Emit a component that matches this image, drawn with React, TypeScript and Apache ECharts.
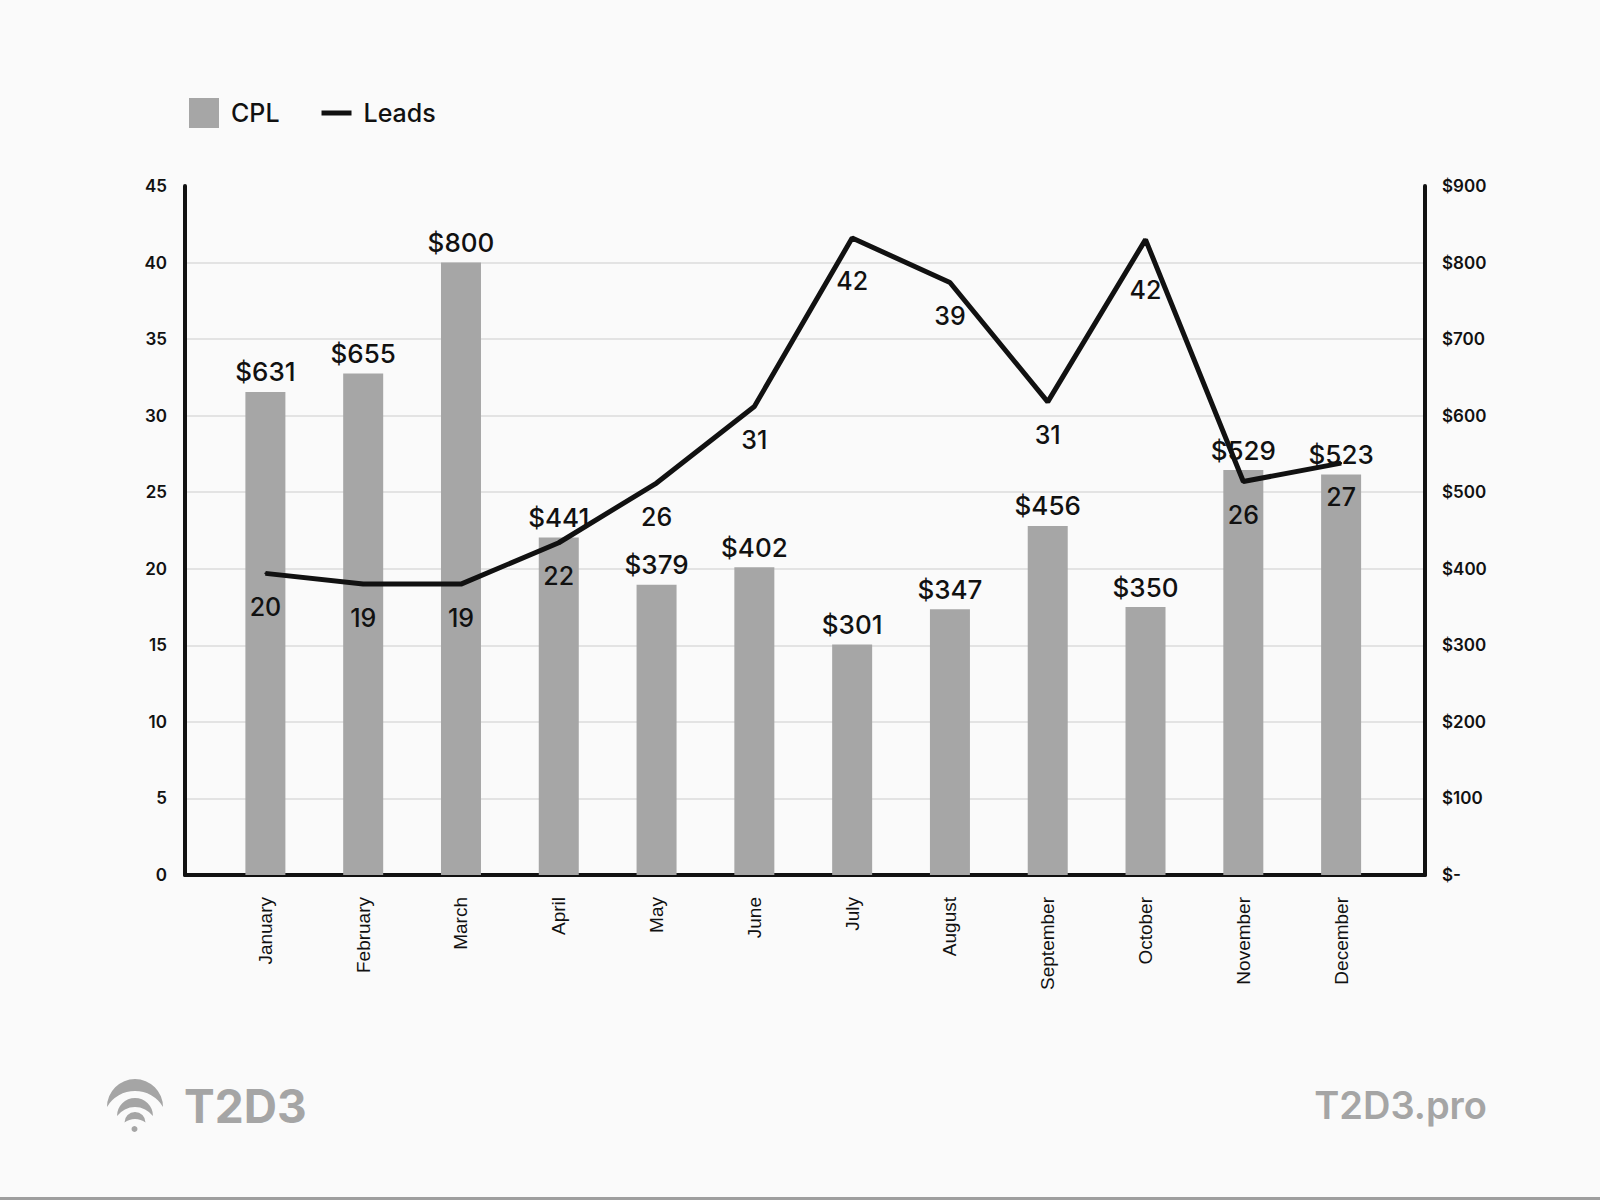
import React, { useEffect, useRef } from "react";
import * as echarts from "echarts";

const months = [
  "January", "February", "March", "April", "May", "June",
  "July", "August", "September", "October", "November", "December",
];
const cplValues = [631, 655, 800, 441, 379, 402, 301, 347, 456, 350, 529, 523];
const leadsValues = [19.7, 19.0, 19.0, 21.7, 25.6, 30.6, 41.6, 38.7, 30.9, 41.5, 25.7, 26.9];
const leadsAxis = { min: 0, max: 45, interval: 5 };
const cplAxis = { min: 0, max: 900, interval: 100 };

const logoD =
  "M107,1107 A28,28 0 0 1 163,1107 A32.5,32.5 0 0 0 107,1107 Z " +
  "M117,1116 A18,18 0 0 1 153,1116 A22.5,22.5 0 0 0 117,1116 Z " +
  "M124.5,1122.5 A10.5,10.5 0 0 1 145.5,1122.5 A17.5,17.5 0 0 0 124.5,1122.5 Z";
echarts.graphic.registerShape("t2d3logo", echarts.graphic.extendPath(logoD, {}));

const FONT = "Inter";
const INK = "#111111";
const BAR = "#a6a6a6";
const LOGO = "#a5a5a5";

export default function App() {
  const ref = useRef<HTMLDivElement>(null);
  useEffect(() => {
    if (!ref.current) return;
    const chart = echarts.init(ref.current, undefined, { renderer: "svg" });
    const outer = { left: 185, top: 186, width: 1240, height: 689 };
    const inner = { left: 216.5, top: 186, width: 1173.5, height: 689 };
    const baseLabelDistance = 20;
    const extraLabelDistance: Record<number, number> = { 6: 9, 9: 17 };
    chart.setOption({
      animation: false,
      backgroundColor: "#fafafa",
      textStyle: { fontFamily: FONT },
      legend: {
        left: 184,
        top: 93,
        itemWidth: 30,
        itemHeight: 30,
        itemGap: 42,
        textStyle: { fontFamily: FONT, fontSize: 25, fontWeight: 500, color: INK, padding: [0, 0, 0, 7] },
        data: [
          { name: "CPL", icon: "rect" },
          { name: "Leads", icon: "path://M0,0H30V5H0Z", itemStyle: { borderWidth: 0, color: INK } },
        ],
      },
      grid: [
        { ...outer, containLabel: false },
        { ...inner, containLabel: false },
      ],
      xAxis: [
        {
          type: "value",
          gridIndex: 0,
          min: 0,
          max: 1,
          axisLine: { show: true, lineStyle: { color: INK, width: 4 } },
          axisTick: { show: false },
          axisLabel: { show: false },
          splitLine: { show: false },
        },
        {
          type: "category",
          gridIndex: 1,
          data: months,
          axisLine: { show: false },
          axisTick: { show: false },
          axisLabel: {
            rotate: 90,
            margin: 22,
            fontFamily: "Liberation Sans",
            fontSize: 19,
            color: INK,
          },
        },
      ],
      yAxis: [
        {
          type: "value",
          gridIndex: 0,
          position: "left",
          ...leadsAxis,
          axisLine: { show: true, lineStyle: { color: INK, width: 4 } },
          axisTick: { show: false },
          axisLabel: { margin: 18, fontFamily: FONT, fontSize: 17, fontWeight: 600, color: INK },
          splitLine: { show: true, showMaxLine: false, showMinLine: false, lineStyle: { color: "#e3e3e3", width: 2 } },
        },
        {
          type: "value",
          gridIndex: 0,
          position: "right",
          ...cplAxis,
          axisLine: { show: true, lineStyle: { color: INK, width: 4 } },
          axisTick: { show: false },
          axisLabel: {
            margin: 17,
            fontFamily: FONT,
            fontSize: 17,
            fontWeight: 600,
            color: INK,
            formatter: (v: number) => (v === 0 ? "$-" : "$" + v),
          },
          splitLine: { show: false },
        },
        { type: "value", gridIndex: 1, ...leadsAxis, show: false },
        { type: "value", gridIndex: 1, ...cplAxis, show: false },
      ],
      series: [
        {
          name: "CPL",
          type: "bar",
          xAxisIndex: 1,
          yAxisIndex: 3,
          data: cplValues,
          barWidth: 40,
          itemStyle: { color: BAR },
          label: {
            show: true,
            position: "top",
            distance: 7,
            fontFamily: FONT,
            fontSize: 26,
            fontWeight: 500,
            color: INK,
            formatter: (p: any) => "$" + p.value,
          },
          z: 2,
        },
        {
          name: "Leads",
          type: "line",
          xAxisIndex: 1,
          yAxisIndex: 2,
          data: leadsValues.map((v, i) =>
            extraLabelDistance[i]
              ? { value: v, label: { distance: baseLabelDistance + extraLabelDistance[i] } }
              : v
          ),
          color: INK,
          symbol: "circle",
          symbolSize: 2,
          showSymbol: true,
          lineStyle: { color: INK, width: 5 },
          itemStyle: { color: INK },
          label: {
            show: true,
            position: "bottom",
            distance: baseLabelDistance,
            fontFamily: FONT,
            fontSize: 25,
            fontWeight: 500,
            color: INK,
            formatter: (p: any) => String(Math.round(p.value)),
          },
          z: 3,
        },
      ],
      graphic: [
        { type: "t2d3logo", x: 0, y: 0, style: { fill: LOGO } },
        { type: "circle", shape: { cx: 134.5, cy: 1129, r: 3 }, style: { fill: LOGO } },
        {
          type: "text",
          x: 184,
          y: 1106,
          style: { text: "T2D3", fill: LOGO, font: `bold 46px ${FONT}`, verticalAlign: "middle", align: "left" },
        },
        {
          type: "text",
          x: 1487,
          y: 1105,
          style: { text: "T2D3.pro", fill: LOGO, font: `600 38px ${FONT}`, verticalAlign: "middle", align: "right" },
        },
        { type: "rect", shape: { x: 0, y: 1197, width: 1600, height: 3 }, style: { fill: "#9e9e9e" } },
      ],
    });
    return () => chart.dispose();
  }, []);
  return (
    <div
      ref={ref}
      style={{ position: "absolute", left: 0, top: 0, width: 1600, height: 1200, background: "#fafafa" }}
    />
  );
}
